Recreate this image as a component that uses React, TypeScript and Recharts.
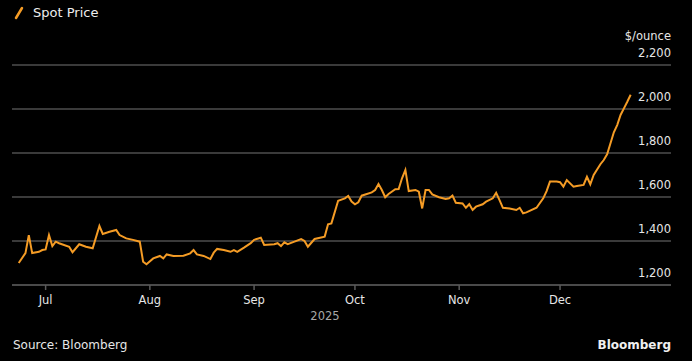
import React from 'react'
import { LineChart, Line, XAxis, YAxis, CartesianGrid } from 'recharts'

const dates = [
  '2025-06-23', '2025-06-25', '2025-06-26', '2025-06-27', '2025-06-29', '2025-06-30',
  '2025-07-01', '2025-07-02', '2025-07-03', '2025-07-04', '2025-07-05', '2025-07-08',
  '2025-07-09', '2025-07-11', '2025-07-13', '2025-07-15', '2025-07-17', '2025-07-18',
  '2025-07-20', '2025-07-22', '2025-07-23', '2025-07-25', '2025-07-27', '2025-07-29',
  '2025-07-30', '2025-07-31', '2025-08-02', '2025-08-04', '2025-08-05', '2025-08-06',
  '2025-08-08', '2025-08-11', '2025-08-13', '2025-08-14', '2025-08-15', '2025-08-17',
  '2025-08-19', '2025-08-20', '2025-08-21', '2025-08-23', '2025-08-25', '2025-08-26',
  '2025-08-27', '2025-08-29', '2025-08-31', '2025-09-01', '2025-09-03', '2025-09-04',
  '2025-09-07', '2025-09-08', '2025-09-09', '2025-09-10', '2025-09-11', '2025-09-13',
  '2025-09-15', '2025-09-16', '2025-09-17', '2025-09-19', '2025-09-22', '2025-09-23',
  '2025-09-24', '2025-09-26', '2025-09-28', '2025-09-29', '2025-09-30', '2025-10-01',
  '2025-10-02', '2025-10-03', '2025-10-06', '2025-10-07', '2025-10-08', '2025-10-09',
  '2025-10-10', '2025-10-11', '2025-10-13', '2025-10-14', '2025-10-15', '2025-10-16',
  '2025-10-17', '2025-10-19', '2025-10-20', '2025-10-21', '2025-10-22', '2025-10-23',
  '2025-10-24', '2025-10-26', '2025-10-28', '2025-10-29', '2025-10-30', '2025-10-31',
  '2025-11-02', '2025-11-03', '2025-11-04', '2025-11-05', '2025-11-06', '2025-11-08',
  '2025-11-09', '2025-11-11', '2025-11-12', '2025-11-13', '2025-11-14', '2025-11-16',
  '2025-11-18', '2025-11-19', '2025-11-20', '2025-11-21', '2025-11-24', '2025-11-26',
  '2025-11-27', '2025-11-28', '2025-11-30', '2025-12-01', '2025-12-02', '2025-12-03',
  '2025-12-05', '2025-12-06', '2025-12-08', '2025-12-09', '2025-12-10', '2025-12-11',
  '2025-12-13', '2025-12-14', '2025-12-15', '2025-12-17', '2025-12-18', '2025-12-19',
  '2025-12-20', '2025-12-21', '2025-12-22',
]

const spotPrice = [
  1300, 1345, 1427, 1345, 1351, 1359,
  1362, 1427, 1377, 1397, 1390, 1374,
  1349, 1385, 1374, 1367, 1468, 1432,
  1442, 1450, 1427, 1412, 1405, 1397,
  1306, 1294, 1321, 1332, 1321, 1339,
  1332, 1333, 1344, 1359, 1339, 1332,
  1318, 1347, 1364, 1359, 1351, 1359,
  1351, 1370, 1390, 1405, 1415, 1382,
  1385, 1390, 1377, 1394, 1386, 1397,
  1409, 1400, 1374, 1409, 1420, 1476,
  1480, 1583, 1594, 1605, 1579, 1567,
  1576, 1606, 1621, 1632, 1659, 1632,
  1599, 1614, 1635, 1636, 1685, 1723,
  1627, 1632, 1624, 1548, 1632, 1632,
  1612, 1599, 1591, 1594, 1606, 1574,
  1571, 1551, 1567, 1541, 1556, 1567,
  1579, 1594, 1619, 1586, 1551, 1548,
  1541, 1551, 1526, 1530, 1551, 1594,
  1627, 1670, 1670, 1667, 1647, 1677,
  1647, 1650, 1655, 1692, 1658, 1700,
  1749, 1768, 1794, 1894, 1927, 1973,
  2003, 2033, 2065,
]

const monthTicks = ['2025-07-01', '2025-08-01', '2025-09-01', '2025-10-01', '2025-11-01', '2025-12-01']
const monthLabels = ['Jul', 'Aug', 'Sep', 'Oct', 'Nov', 'Dec']
const priceTicks = [1200, 1400, 1600, 1800, 2000, 2200]
const xRange = ['2025-06-21', '2026-01-03']

const toTs = (s: string) => Date.parse(s + 'T00:00:00Z')
const data = dates.map((d, i) => ({ t: toTs(d), price: spotPrice[i] }))
const tickTs = monthTicks.map(toTs)

const FONT = '"DejaVu Sans", Verdana, sans-serif'
const ORANGE = '#f59c25'

// labels sit just above their gridline, right-aligned at the plot edge
const renderPriceTick = (props: any) => {
  const { x, y, payload } = props
  return (
    <text key={payload.value} x={x} y={y - 8} textAnchor="end" fill="#e6e6e6" fontSize={11.5} fontFamily={FONT}>
      {Number(payload.value).toLocaleString('en-US')}
    </text>
  )
}

export default function App() {
  return (
    <div style={{ position: 'relative', width: 692, height: 361, background: '#000', fontFamily: FONT }}>
      <style>{'body{margin:0;background:#000}'}</style>
      <div style={{ position: 'absolute', left: 13, top: 5, display: 'flex', alignItems: 'center', color: '#eee', fontSize: 13 }}>
        <svg width={12} height={14} style={{ marginRight: 8 }}>
          <line x1={3} y1={12} x2={9} y2={2} stroke={ORANGE} strokeWidth={2.5} strokeLinecap="round" />
        </svg>
        Spot Price
      </div>
      <div style={{ position: 'absolute', right: 21, top: 29, color: '#e6e6e6', fontSize: 11.5 }}>$/ounce</div>
      <LineChart width={692} height={361} data={data} margin={{ top: 65, right: 21, bottom: 46, left: 12 }}>
        <CartesianGrid vertical={false} stroke="#3a3a3a" strokeWidth={2} />
        <XAxis
          dataKey="t"
          type="number"
          scale="time"
          domain={xRange.map(toTs)}
          ticks={tickTs}
          tickFormatter={(v: number) => monthLabels[tickTs.indexOf(v)]}
          axisLine={{ stroke: '#4a4a4a', strokeWidth: 2 }}
          tickLine={{ stroke: '#5a5a5a', strokeWidth: 1.5 }}
          tickSize={5}
          tickMargin={6}
          tick={{ fill: '#e6e6e6', fontSize: 11.5, fontFamily: FONT }}
          height={30}
        />
        <YAxis
          orientation="right"
          mirror
          width={40}
          domain={[1200, 2200]}
          ticks={priceTicks}
          axisLine={false}
          tickLine={false}
          tickSize={0}
          tickMargin={0}
          tick={renderPriceTick}
        />
        <Line type="linear" dataKey="price" stroke={ORANGE} strokeWidth={2} dot={false} isAnimationActive={false} />
      </LineChart>
      <div style={{ position: 'absolute', left: 305, top: 309, width: 40, textAlign: 'center', color: '#a8a8a8', fontSize: 11.5 }}>2025</div>
      <div style={{ position: 'absolute', left: 13, top: 338, color: '#e6e6e6', fontSize: 12 }}>Source: Bloomberg</div>
      <div style={{ position: 'absolute', right: 21, top: 338, color: '#f0f0f0', fontSize: 12, fontWeight: 'bold' }}>Bloomberg</div>
    </div>
  )
}
